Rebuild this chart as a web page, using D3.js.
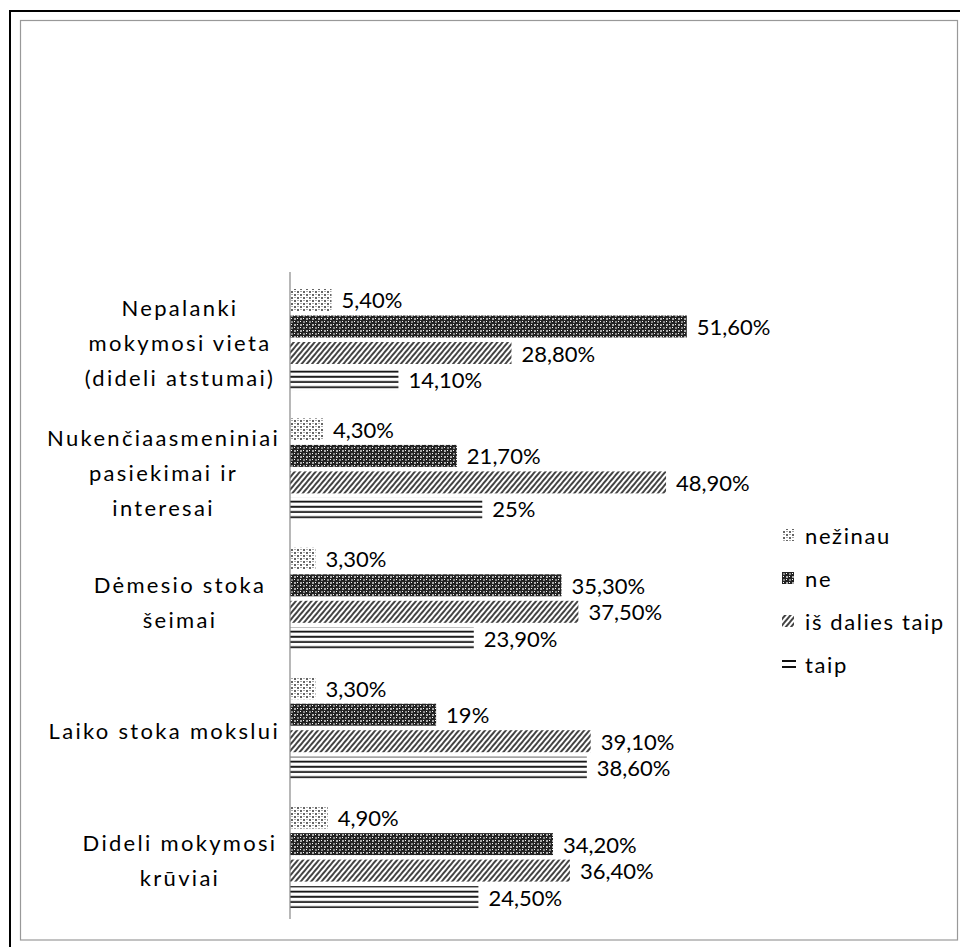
<!DOCTYPE html>
<html><head><meta charset="utf-8">
<script src="https://cdn.jsdelivr.net/npm/d3@7/dist/d3.min.js"></script>
<style>body{margin:0;background:#fff}svg{display:block}text{font-family:Lato,"Open Sans",sans-serif;fill:#000}</style>
</head><body>
<script>
const categories = [
  ["Nepalanki","mokymosi vieta","(dideli atstumai)"],
  ["Nukenčiaasmeniniai","pasiekimai ir","interesai"],
  ["Dėmesio stoka","šeimai"],
  ["Laiko stoka mokslui"],
  ["Dideli mokymosi","krūviai"]
];
const series = ["nežinau","ne","iš dalies taip","taip"];
const nezinau = [5.4, 4.3, 3.3, 3.3, 4.9];
const ne = [51.6, 21.7, 35.3, 19, 34.2];
const isDalies = [28.8, 48.9, 37.5, 39.1, 36.4];
const taip = [14.1, 25, 23.9, 38.6, 24.5];
const labels = [
  ["5,40%","51,60%","28,80%","14,10%"],
  ["4,30%","21,70%","48,90%","25%"],
  ["3,30%","35,30%","37,50%","23,90%"],
  ["3,30%","19%","39,10%","38,60%"],
  ["4,90%","34,20%","36,40%","24,50%"]
];
const values = [nezinau, ne, isDalies, taip];

const W = 960, H = 947;
const svg = d3.select("body").append("svg").attr("width", W).attr("height", H);
const defs = svg.append("defs");

// patterns
const p0 = defs.append("pattern").attr("id","p0").attr("patternUnits","userSpaceOnUse").attr("width",6).attr("height",6);
p0.append("rect").attr("width",6).attr("height",6).attr("fill","#fff");
p0.append("rect").attr("x",0).attr("y",0).attr("width",2).attr("height",2).attr("fill","#666");
p0.append("rect").attr("x",3).attr("y",3).attr("width",2).attr("height",2).attr("fill","#666");
p0.append("rect").attr("x",3).attr("y",0).attr("width",2).attr("height",1).attr("fill","#aaa");
p0.append("rect").attr("x",0).attr("y",3).attr("width",2).attr("height",1).attr("fill","#aaa");

const p1 = defs.append("pattern").attr("id","p1").attr("patternUnits","userSpaceOnUse").attr("width",6).attr("height",6);
p1.append("rect").attr("width",6).attr("height",6).attr("fill","#222");
p1.append("rect").attr("x",0).attr("y",0).attr("width",2).attr("height",2).attr("fill","#aaa");
p1.append("rect").attr("x",3).attr("y",3).attr("width",2).attr("height",2).attr("fill","#888");
p1.append("rect").attr("x",3).attr("y",0).attr("width",1).attr("height",1).attr("fill","#fff");
p1.append("rect").attr("x",0).attr("y",3).attr("width",1).attr("height",1).attr("fill","#fff");

const p2 = defs.append("pattern").attr("id","p2").attr("patternUnits","userSpaceOnUse").attr("width",4).attr("height",4).attr("patternTransform","rotate(40)");
p2.append("rect").attr("width",4).attr("height",4).attr("fill","#fff");
p2.append("rect").attr("x",0).attr("width",2).attr("height",4).attr("fill","#444");

const p3 = defs.append("pattern").attr("id","p3").attr("patternUnits","userSpaceOnUse").attr("width",5).attr("height",5.2);
p3.append("rect").attr("width",5).attr("height",5.2).attr("fill","#fff");
p3.append("rect").attr("y",1.5).attr("width",5).attr("height",1.8).attr("fill","#111");

const fills = ["url(#p0)","url(#p1)","url(#p2)","url(#p3)"];

// borders
svg.append("rect").attr("x",20.5).attr("y",20.5).attr("width",937).attr("height",919.5).attr("fill","none").attr("stroke","#999").attr("stroke-width",1.2);
svg.append("line").attr("x1",10).attr("y1",11).attr("x2",W).attr("y2",11).attr("stroke","#000").attr("stroke-width",2);
svg.append("line").attr("x1",10).attr("y1",10).attr("x2",10).attr("y2",H).attr("stroke","#000").attr("stroke-width",2);

const x = d3.scaleLinear().domain([0, 100]).range([290, 1059]);
const y = d3.scaleBand().domain(d3.range(categories.length)).range([272, 919]);
const yi = d3.scaleBand().domain(d3.range(series.length)).range([17, 118.5]).paddingInner(0.17);

const g = svg.append("g");
categories.forEach((cat, ci) => {
  series.forEach((s, si) => {
    const v = values[si][ci];
    const yy = y(ci) + yi(si);
    g.append("rect").attr("x", x(0)).attr("y", yy).attr("width", x(v) - x(0)).attr("height", yi.bandwidth()).attr("fill", fills[si]);
    g.append("text").attr("x", x(v) + 10).attr("y", yy + yi.bandwidth()/2).attr("dominant-baseline","central")
      .attr("font-size", 22).text(labels[ci][si]);
  });
  // category label
  const center = y(ci) + yi(0) + (yi(3) + yi.bandwidth() - yi(0)) / 2 + 3;
  const tg = svg.append("g");
  const n = cat.length;
  const ts = cat.map((line, li) => tg.append("text").attr("y", center + (li - (n-1)/2) * 35)
      .attr("dominant-baseline","central").attr("text-anchor","middle").attr("font-size", 22)
      .attr("letter-spacing", 2.3).text(line));
  const maxW = d3.max(ts, t => t.node().getComputedTextLength());
  const cx = Math.min(180, 280 - maxW/2);
  ts.forEach(t => t.attr("x", cx));
});

// axis line
svg.append("line").attr("x1", x(0)).attr("x2", x(0)).attr("y1", 272).attr("y2", 919).attr("stroke","#888").attr("stroke-width",1.2);

// legend
const legY = [535, 578, 621, 664];
series.forEach((s, si) => {
  if (si < 3) {
    svg.append("rect").attr("x", 782).attr("y", legY[si]-6).attr("width", 12).attr("height", 12).attr("fill", fills[si]);
  } else {
    svg.append("rect").attr("x", 782).attr("y", legY[si]-4).attr("width", 14).attr("height", 2).attr("fill", "#111");
    svg.append("rect").attr("x", 782).attr("y", legY[si]+2).attr("width", 14).attr("height", 2).attr("fill", "#111");
  }
  svg.append("text").attr("x", 805).attr("y", legY[si]).attr("dominant-baseline","central").attr("font-size", 22)
    .attr("letter-spacing", 1.6).text(s);
});
</script>
</body></html>
